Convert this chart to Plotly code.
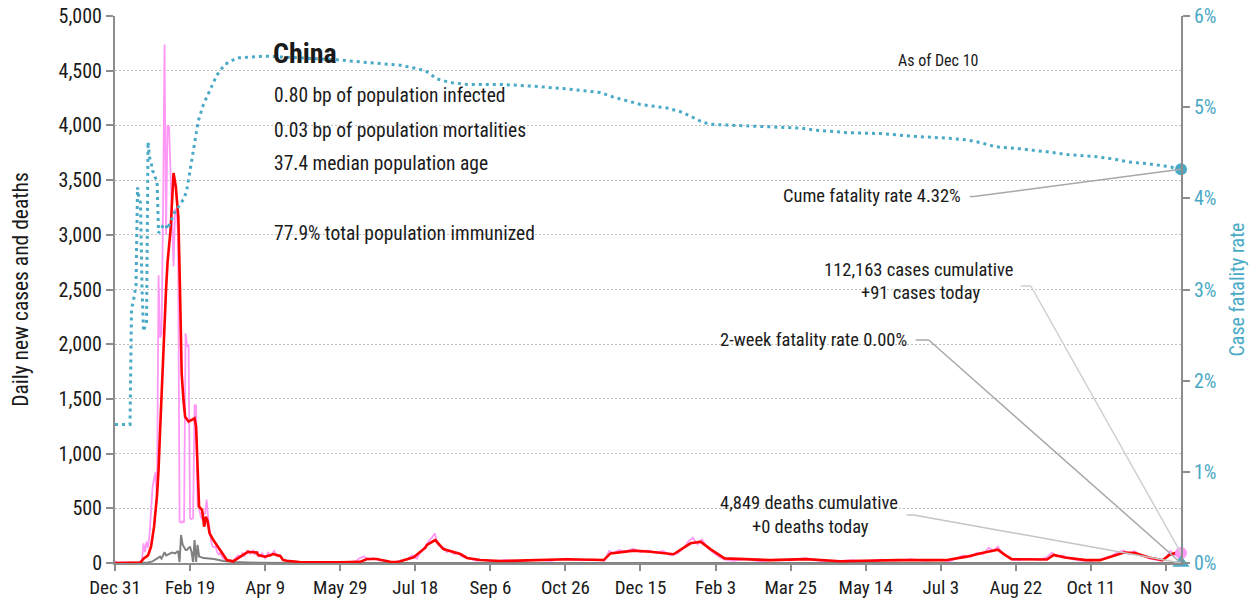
import pandas as pd
import plotly.graph_objects as go

BASE = pd.Timestamp("2019-12-31")

# ---------------- data (day offsets from Dec 31, 2019) ----------------
case_days = [0, 2, 4, 6, 8, 10, 12, 14, 16, 18, 19, 20, 21, 22, 23, 24, 25, 26, 27, 28,
             29, 30, 31, 32, 33, 34, 35, 36, 37, 38, 39, 40, 41, 42, 43, 44, 45, 46, 47,
             48, 49, 50, 51, 52, 53, 54, 55, 56, 57, 58, 59, 60, 61, 62, 63, 64, 65, 66,
             67, 68, 69, 70, 72, 74, 76, 78, 80, 82, 84, 85, 86, 88, 90, 92, 93, 95, 96,
             98, 100, 102, 104, 106, 108, 110, 112, 115, 120, 130, 140, 150, 160, 163,
             166, 169, 172, 176, 180, 185, 190, 194, 198, 201, 203, 205, 207, 209, 211,
             213, 215, 217, 219, 221, 223, 226, 228, 231, 234, 237, 241, 245, 250, 260,
             270, 280, 290, 300, 310, 320, 326, 329, 332, 336, 340, 345, 350, 355, 360,
             365, 370, 375, 379, 382, 385, 388, 391, 394, 398, 402, 406, 412, 420, 430,
             440, 450, 460, 470, 480, 490, 500, 510, 520, 530, 540, 550, 556, 560, 565,
             570, 574, 578, 582, 585, 588, 591, 594, 597, 602, 610, 616, 621, 624, 627,
             631, 636, 642, 650, 657, 663, 668, 672, 675, 679, 683, 686, 689, 693, 697,
             700, 703, 706, 708, 710]
daily_cases = [17, 0, 5, 0, 3, 0, 6, 0, 4, 30, 180, 100, 195, 140, 260, 450, 690, 770, 830,
               560, 2630, 2060, 2100, 3230, 4740, 3000, 4000, 3990, 3530, 3050, 2710, 3230,
               3230, 3010, 380, 370, 380, 370, 2100, 1980, 2000, 410, 400, 410, 1440, 1440,
               520, 500, 430, 400, 450, 450, 580, 420, 300, 200, 150, 145, 150, 100, 80, 90,
               40, 30, 20, 10, 40, 70, 55, 95, 60, 110, 85, 120, 80, 100, 60, 90, 45, 95,
               70, 110, 60, 70, 25, 20, 8, 5, 10, 3, 15, 45, 60, 30, 45, 25, 15, 5, 20, 30,
               70, 40, 90, 120, 160, 200, 230, 270, 170, 150, 140, 100, 110, 80, 95, 60,
               50, 35, 20, 30, 15, 25, 15, 30, 20, 40, 25, 30, 20, 110, 90, 120, 105, 130,
               100, 115, 95, 110, 70, 90, 140, 200, 230, 170, 215, 150, 100, 60, 30, 20,
               35, 15, 30, 25, 45, 20, 10, 25, 15, 30, 20, 35, 20, 30, 15, 40, 70, 55, 95,
               80, 140, 110, 150, 90, 60, 30, 25, 40, 30, 55, 95, 60, 70, 40, 25, 20, 35,
               60, 100, 115, 80, 110, 70, 60, 40, 30, 20, 50, 110, 70, 100, 91]

avg_days = [0, 5, 17, 19, 22, 24, 26, 28, 29, 30, 32, 34, 35, 37, 39, 40.5, 41.2, 42.2,
            43.3, 44.4, 45.6, 46.7, 49, 51, 53, 54, 55, 56, 57, 58, 59.4, 60.5, 61.5, 63,
            65.5, 67.8, 70, 74.5, 78.7, 85.3, 88.7, 90, 94.5, 95.3, 98.7, 100, 103.3,
            105.3, 110, 112, 114.5, 121, 123, 150, 163.3, 167.8, 174.5, 176.7, 183.3,
            187.8, 190, 198.9, 206.7, 207.8, 213.3, 218.7, 221, 227.8, 230, 234.5, 238.9,
            243.3, 256.7, 301, 325.5, 330, 345.5, 356.7, 372, 383.3, 387.8, 390, 397, 406,
            436.7, 460, 483, 520.7, 553.3, 567.3, 576.7, 588, 592.7, 597.3, 620.7, 625.3,
            632.7, 646.7, 656, 672, 679.3, 688.7, 697.7, 702.3, 707, 710]
avg_cases = [0, 0, 5, 40, 70, 150, 330, 620, 850, 1200, 1900, 2500, 2750, 3044, 3565,
             3440, 3320, 3165, 2495, 1734, 1490, 1337, 1292, 1307, 1322, 1246, 911, 515,
             500, 485, 332, 423, 393, 271, 210, 160, 120, 27, 15, 70, 103, 100, 95, 73, 62,
             58, 70, 82, 64, 27, 21, 12, 9, 7, 10, 37, 37, 30, 12, 9, 15, 52, 140, 165,
             210, 128, 119, 88, 82, 46, 34, 27, 18, 34, 27, 88, 113, 103, 80, 180, 189,
             195, 122, 42, 26, 35, 16, 26, 26, 58, 90, 122, 74, 35, 32, 74, 51, 26, 26,
             96, 90, 51, 26, 74, 96, 83]

death_days = [0, 20, 22, 25, 27, 29, 30, 31, 33, 34, 36, 38, 40, 42, 43, 44, 45, 46, 47,
              48, 49, 50, 51, 52, 53, 54, 55, 56, 59, 66, 72, 79, 85, 95, 120, 200, 300,
              400, 500, 600, 710]
daily_deaths = [0, 0, 5, 15, 30, 45, 58, 40, 100, 70, 85, 95, 88, 110, 9, 256, 170, 150,
                120, 119, 140, 146, 100, 9, 210, 9, 165, 60, 45, 37, 18, 9, 5, 3, 1, 1, 1,
                1, 1, 1, 0]

cfr_days = [0, 10, 11, 12, 13, 14, 15, 16, 17, 18, 19, 20, 21, 22, 23, 24, 25, 26, 27, 28,
            29, 30, 31, 32, 33, 34, 35, 36, 37, 38, 39, 40, 42, 44, 46, 47.8, 50, 53.3,
            55.5, 58.9, 63.3, 67.8, 70, 73.3, 76.7, 81, 99, 110, 148, 168, 190, 199, 206.7,
            211, 214.5, 223.3, 234.5, 256.7, 278.7, 301, 323.3, 332, 341, 350, 367.8,
            376.7, 383.3, 392, 398.7, 412, 434.5, 456.7, 465.3, 487.8, 510, 532, 554.5,
            567.8, 576.7, 585.5, 590, 598.9, 621, 634.5, 652, 665.5, 674.5, 687.8, 701, 710]
cfr_pct = [1.52, 1.52, 2.80, 2.85, 2.95, 3.05, 4.12, 4.00, 3.95, 3.00, 2.54, 2.60, 2.65,
           4.62, 4.45, 4.40, 4.30, 4.28, 4.22, 4.20, 3.62, 3.65, 3.68, 3.70, 3.72, 3.70,
           3.66, 3.70, 3.75, 3.78, 3.82, 3.86, 3.90, 3.95, 4.00, 4.09, 4.31, 4.64, 4.85,
           5.03, 5.19, 5.35, 5.40, 5.47, 5.50, 5.54, 5.56, 5.55, 5.52, 5.49, 5.46, 5.43,
           5.40, 5.35, 5.31, 5.27, 5.25, 5.25, 5.23, 5.20, 5.16, 5.11, 5.07, 5.03, 4.99,
           4.95, 4.90, 4.83, 4.81, 4.80, 4.79, 4.77, 4.75, 4.72, 4.71, 4.68, 4.66, 4.64,
           4.61, 4.57, 4.56, 4.55, 4.51, 4.48, 4.46, 4.43, 4.40, 4.38, 4.35, 4.32]

two_week_cfr_today = 0.00
tick_dates = ["2019-12-31", "2020-02-19", "2020-04-09", "2020-05-29", "2020-07-18",
              "2020-09-06", "2020-10-26", "2020-12-15", "2021-02-03", "2021-03-25",
              "2021-05-14", "2021-07-03", "2021-08-22", "2021-10-11", "2021-11-30"]
tick_labels = ["Dec 31", "Feb 19", "Apr 9", "May 29", "Jul 18", "Sep 6", "Oct 26",
               "Dec 15", "Feb 3", "Mar 25", "May 14", "Jul 3", "Aug 22", "Oct 11", "Nov 30"]
y_ticks = [0, 500, 1000, 1500, 2000, 2500, 3000, 3500, 4000, 4500, 5000]
y2_ticks = [0, 1, 2, 3, 4, 5, 6]
y2_labels = ["0%", "1%", "2%", "3%", "4%", "5%", "6%"]


def to_dates(days):
    return BASE + pd.to_timedelta(days, unit="D")


# ---------------- styling ----------------
FONT = "Liberation Sans Narrow, Arial Narrow, Roboto Condensed, sans-serif"
PINK = "#ff99f5"
RED = "#ff0000"
GRAY = "#808080"
CYAN = "#4aaac6"
AX = "#8c8c8c"
TXT = "#1a1a1a"

case_x = to_dates(case_days)
avg_x = to_dates(avg_days)
death_x = to_dates(death_days)
cfr_x = to_dates(cfr_days)
last_date = case_x[-1]

fig = go.Figure()
fig.add_trace(go.Scatter(x=case_x, y=daily_cases, mode="lines",
                         line=dict(color=PINK, width=1.8), hoverinfo="skip"))
fig.add_trace(go.Scatter(x=death_x, y=daily_deaths, mode="lines",
                         line=dict(color=GRAY, width=2), hoverinfo="skip"))
fig.add_trace(go.Scatter(x=avg_x, y=avg_cases, mode="lines",
                         line=dict(color=RED, width=2.6), hoverinfo="skip"))
fig.add_trace(go.Scatter(x=cfr_x, y=cfr_pct, mode="lines", yaxis="y2",
                         line=dict(color=CYAN, width=3, dash="3px,4px"), hoverinfo="skip"))
# end markers
fig.add_trace(go.Scatter(x=[last_date], y=[daily_cases[-1]], mode="markers",
                         marker=dict(color=PINK, size=12), hoverinfo="skip", cliponaxis=False))
fig.add_trace(go.Scatter(x=[last_date], y=[cfr_pct[-1]], mode="markers", yaxis="y2",
                         marker=dict(color=CYAN, size=12), hoverinfo="skip", cliponaxis=False))
fig.add_trace(go.Scatter(x=[last_date], y=[two_week_cfr_today], mode="markers", yaxis="y2",
                         marker=dict(color=CYAN, size=15, symbol="triangle-up"),
                         hoverinfo="skip", cliponaxis=False))


def paper_x(px):
    return (px - 115) / 1066.0


def paper_y(py):
    return (563 - py) / 547.0


def note(text, px, py, xanchor="left", size=18.5, color=TXT, bold=False):
    fig.add_annotation(text=("<b>%s</b>" % text) if bold else text,
                       x=paper_x(px), y=paper_y(py), xref="paper", yref="paper",
                       xanchor=xanchor, yanchor="middle", showarrow=False,
                       font=dict(family=FONT, size=size, color=color))


note("China", 271, 53, size=28, bold=True)
note("0.80 bp of population infected", 272, 96, size=19.5)
note("0.03 bp of population mortalities", 272, 130, size=19.5)
note("37.4 median population age", 272, 163, size=19.5)
note("77.9% total population immunized", 272, 233, size=19.5)
note("As of Dec 10", 938, 60, xanchor="center", size=16)
note("Cume fatality rate 4.32%", 963, 196, xanchor="right")
note("112,163 cases cumulative", 919, 270, xanchor="center")
note("+91 cases today", 920, 293, xanchor="center")
note("2-week fatality rate 0.00%", 909, 340, xanchor="right")
note("4,849 deaths cumulative", 809, 503, xanchor="center")
note("+0 deaths today", 810, 527, xanchor="center")


def leader(day0, day1, yv, yend, yref, color):
    x0 = to_dates([day0])[0]
    x1 = to_dates([day1])[0]
    fig.add_shape(type="line", xref="x", yref=yref, x0=x0, x1=x1, y0=yv, y1=yv,
                  line=dict(color=color, width=1.5), layer="above")
    fig.add_shape(type="line", xref="x", yref=yref, x0=x1, x1=last_date, y0=yv, y1=yend,
                  line=dict(color=color, width=1.5), layer="above")


leader(569.3, 572, 4.02, cfr_pct[-1], "y2", "#a8a8a8")
leader(603.3, 610, 2532, daily_cases[-1], "y", "#cfcfcf")
leader(533.3, 542, 2.446, two_week_cfr_today, "y2", "#a8a8a8")
leader(527.3, 532, 439, daily_deaths[-1], "y", "#c4c4c4")

fig.update_layout(
    width=1255, height=604,
    margin=dict(l=115, r=74, t=16, b=41, autoexpand=False),
    paper_bgcolor="white", plot_bgcolor="white",
    showlegend=False,
    font=dict(family=FONT, size=19, color=TXT),
    xaxis=dict(type="date", range=[BASE, last_date], tickmode="array",
               tickvals=tick_dates, ticktext=tick_labels, ticks="outside",
               ticklen=6, tickwidth=1.5, tickcolor=AX, showline=True, linecolor=AX,
               linewidth=2, showgrid=False, zeroline=False, automargin=False,
               tickfont=dict(family=FONT, size=19, color=TXT)),
    yaxis=dict(range=[0, 5000], tickmode="array", tickvals=y_ticks, tickformat=",",
               ticks="outside", ticklen=7, tickwidth=1.5, tickcolor=AX, showline=True,
               linecolor=AX, linewidth=2, showgrid=True, gridcolor="#c0c0c0",
               griddash="2px,2px", gridwidth=1, zeroline=False, automargin=False,
               tickfont=dict(family=FONT, size=20, color=TXT),
               title=dict(text="Daily new cases and deaths", standoff=24,
                          font=dict(family=FONT, size=21.5, color=TXT))),
    yaxis2=dict(range=[0, 6], overlaying="y", side="right", tickmode="array",
                tickvals=y2_ticks, ticktext=y2_labels, ticks="outside", ticklen=7,
                tickwidth=1.5, tickcolor=AX, showline=True, linecolor=AX, linewidth=2,
                showgrid=False, zeroline=False, automargin=False,
                tickfont=dict(family=FONT, size=20, color=CYAN),
                title=dict(text="Case fatality rate", standoff=14,
                           font=dict(family=FONT, size=20, color=CYAN))),
)

fig.write_html("out.html", config={"displayModeBar": False},
               post_script="document.body.style.margin='0';document.body.style.overflow='hidden';")
